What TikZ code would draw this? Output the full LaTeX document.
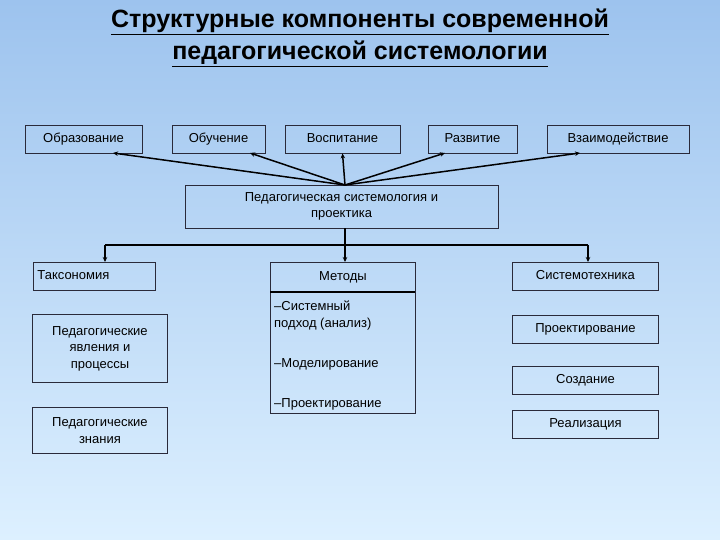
\documentclass[tikz,border=0pt]{standalone}
\usepackage{fontspec}
\setmainfont{Liberation Sans}
\usetikzlibrary{arrows.meta}
\definecolor{bgtop}{HTML}{9DC3EE}
\definecolor{bgbot}{HTML}{DDF0FF}
\definecolor{bord}{HTML}{2A2A3A}
\begin{document}
\begin{tikzpicture}[x=1pt,y=-1pt,
  bx/.style={draw=bord,line width=0.9pt,inner sep=0pt,align=center,font=\fontsize{13}{16.5}\selectfont},
  one/.style={text height=9.5pt,text depth=2.5pt},
  tx/.style={anchor=north west,align=left,font=\fontsize{13}{16.5}\selectfont,inner sep=0pt},
  arr/.style={line width=1.5pt,-{Stealth[length=5pt,width=4.5pt]}},
  ln/.style={line width=1.5pt}]
\shade[top color=bgtop,bottom color=bgbot] (0,0) rectangle (720,540);
\useasboundingbox (0,0) rectangle (720,540);
\node[font=\bfseries\fontsize{25}{32}\selectfont,align=center] (title) at (360,38) {\underline{Структурные компоненты современной}\\\underline{педагогической системологии}};
\node[bx,one,minimum width=117,minimum height=28] (obr) at (83.5,139) {Образование};
\node[bx,one,minimum width=93,minimum height=28] (obu) at (218.5,139) {Обучение};
\node[bx,one,minimum width=115,minimum height=28] (vos) at (342.5,139) {Воспитание};
\node[bx,one,minimum width=89,minimum height=28] (raz) at (472.5,139) {Развитие};
\node[bx,one,minimum width=142,minimum height=28] (vza) at (618,139) {Взаимодействие};
\node[bx,minimum width=313,minimum height=43] (ped) at (341.5,206.5) {Педагогическая системология и\\проектика};
\coordinate (top) at (345,185);
\draw[arr] (top) -- (113,153);
\draw[arr] (top) -- (250,153);
\draw[arr] (top) -- (vos.south);
\draw[arr] (top) -- (445,153);
\draw[arr] (top) -- (580,153);
\node[bx,one,minimum width=122,minimum height=28,anchor=north west,align=left,text width=114,inner xsep=4pt] (tax) at (33,262) {Таксономия};
\node[bx,one,minimum width=145,minimum height=30,anchor=north west] (met) at (270,262) {Методы};
\node[bx,one,minimum width=146,minimum height=28,anchor=north west] (sys) at (512,262) {Системотехника};
\coordinate (j) at (345,245);
\draw[ln] (ped.south -| j) -- (j);
\draw[ln] (105,245) -- (588,245);
\draw[arr] (105,245) -- (tax.north -| 105,0);
\draw[arr] (j) -- (met.north -| j);
\draw[arr] (588,245) -- (sys.north -| 588,0);
\node[bx,minimum width=145,minimum height=121,anchor=north west] (lst) at (270,292) {};
\draw[line width=1.6pt] (270,292) -- (415,292);
\node[tx] (l1) at (274,301) {–Системный\\подход (анализ)};
\node[tx] (l2) at (274,358) {–Моделирование};
\node[tx] (l3) at (274,398) {–Проектирование};
\node[bx,minimum width=135,minimum height=68,anchor=north west] (yav) at (32,314) {Педагогические\\явления и\\процессы};
\node[bx,minimum width=135,minimum height=46,anchor=north west] (zna) at (32,407) {Педагогические\\знания};
\node[bx,one,minimum width=146,minimum height=28,anchor=north west] (pro) at (512,315) {Проектирование};
\node[bx,one,minimum width=146,minimum height=28,anchor=north west] (soz) at (512,366) {Создание};
\node[bx,one,minimum width=146,minimum height=28,anchor=north west] (rea) at (512,410) {Реализация};
\end{tikzpicture}
\end{document}
